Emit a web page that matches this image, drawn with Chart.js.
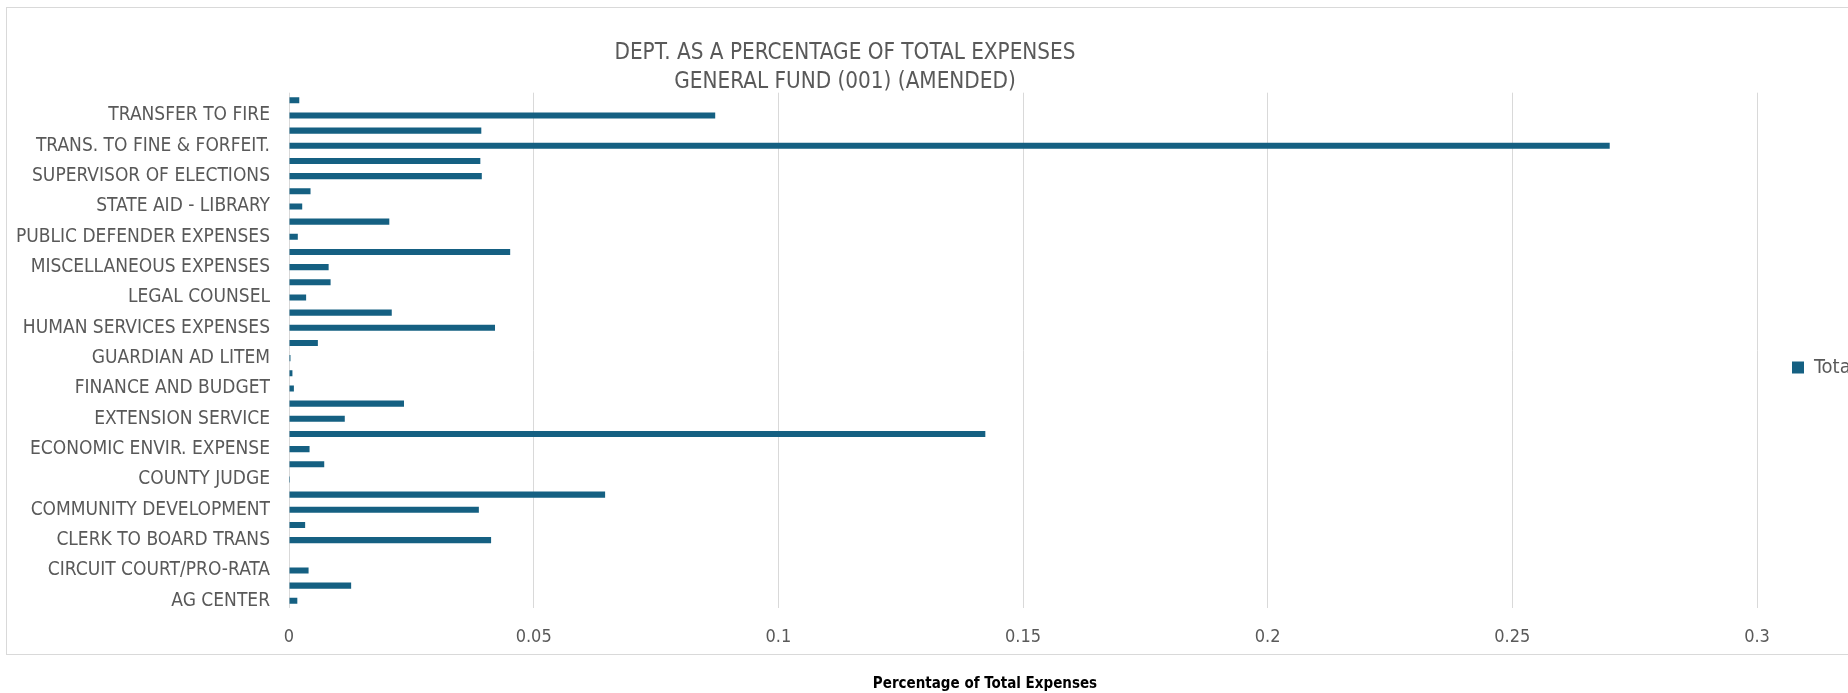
<!DOCTYPE html>
<html>
<head>
<meta charset="utf-8">
<script src="https://cdn.jsdelivr.net/npm/chart.js@4"></script>
<style>
html, body { margin: 0; padding: 0; overflow: hidden; background: #ffffff; }
#wrap { position: relative; width: 1848px; height: 693px; }
</style>
</head>
<body>
<div id="wrap"><canvas id="chart"></canvas></div>
<script>
// ---------- DATA (bottom category first) ----------
const categories = [
  'AG CENTER',
  'BUILDING MAINTENANCE',
  'CIRCUIT COURT/PRO-RATA',
  'CLERK OF COURTS',
  'CLERK TO BOARD TRANS',
  'CODE ENFORCEMENT',
  'COMMUNITY DEVELOPMENT',
  'COUNTY ADMINISTRATION',
  'COUNTY JUDGE',
  'DEBT SERVICE',
  'ECONOMIC ENVIR. EXPENSE',
  'EMERGENCY MEDICAL SERVICES',
  'EXTENSION SERVICE',
  'FACILITIES MAINTENANCE',
  'FINANCE AND BUDGET',
  'GENERAL SERVICES',
  'GUARDIAN AD LITEM',
  'HEALTH DEPARTMENT',
  'HUMAN SERVICES EXPENSES',
  'INFORMATION TECHNOLOGY',
  'LEGAL COUNSEL',
  'LIBRARY',
  'MISCELLANEOUS EXPENSES',
  'PROPERTY APPRAISER',
  'PUBLIC DEFENDER EXPENSES',
  'RISK MANAGEMENT',
  'STATE AID - LIBRARY',
  'STATE ATTORNEY',
  'SUPERVISOR OF ELECTIONS',
  'TAX COLLECTOR',
  'TRANS. TO FINE & FORFEIT.',
  'TRANSFER TO CAPITAL',
  'TRANSFER TO FIRE',
  'VETERANS SERVICES'
];
const totalValues = [
  0.0017, 0.0127, 0.0040, 0.0000, 0.0413, 0.0033, 0.0388, 0.0646, 0.0002, 0.0072,
  0.0042, 0.1423, 0.0114, 0.0235, 0.0010, 0.0007, 0.0003, 0.0059, 0.0421, 0.0210,
  0.0035, 0.0085, 0.0081, 0.0452, 0.0018, 0.0205, 0.0027, 0.0044, 0.0394, 0.0391,
  0.2699, 0.0393, 0.0871, 0.0021
];
const xTickValues = [0, 0.05, 0.1, 0.15, 0.2, 0.25, 0.3];
const seriesName = 'Total';
const titleLines = ['DEPT. AS A PERCENTAGE OF TOTAL EXPENSES', 'GENERAL FUND (001) (AMENDED)'];
const axisTitle = 'Percentage of Total Expenses';

// ---------- STYLE ----------
const FONT = "'Liberation Sans Narrow', 'Arial Narrow', 'DejaVu Sans Condensed', sans-serif";
const BAR_COLOR = '#156082';
const TEXT_GRAY = '#595959';
const GRID_GRAY = '#D9D9D9';
const TITLE_CENTER_X = 845;
const TITLE_SHIFT_Y = 6.5;
const AXIS_TITLE_CENTER_X = 985;
const LEGEND_SHIFT_Y = 21;

const frame = {
  id: 'frame',
  beforeDraw(chart) {
    const ctx = chart.ctx;
    ctx.save();
    ctx.strokeStyle = GRID_GRAY;
    ctx.lineWidth = 1;
    ctx.strokeRect(6.5, 7.5, chart.width + 20, 647);
    ctx.restore();
  }
};

const layoutTweaks = {
  id: 'layoutTweaks',
  afterLayout(chart) {
    chart.boxes.forEach(b => {
      if (!b.options) return;
      if (b === chart.titleBlock) {
        b.left = TITLE_CENTER_X - 800; b.right = TITLE_CENTER_X + 800;
        b.top += TITLE_SHIFT_Y; b.bottom += TITLE_SHIFT_Y;
      } else if (b.options.text === axisTitle) {
        b.left = AXIS_TITLE_CENTER_X - 800; b.right = AXIS_TITLE_CENTER_X + 800;
      }
    });
    if (chart.legend) { chart.legend.top += LEGEND_SHIFT_Y; chart.legend.bottom += LEGEND_SHIFT_Y; }
  }
};

new Chart(document.getElementById('chart'), {
  type: 'bar',
  data: {
    labels: categories,
    datasets: [{
      label: seriesName,
      data: totalValues,
      backgroundColor: BAR_COLOR,
      borderWidth: 0,
      barPercentage: 0.4,
      categoryPercentage: 1.0
    }]
  },
  plugins: [frame, layoutTweaks],
  options: {
    indexAxis: 'y',
    responsive: true,
    maintainAspectRatio: false,
    animation: false,
    devicePixelRatio: 1,
    layout: { padding: { left: 0, right: 0, top: 0, bottom: 0 } },
    scales: {
      x: {
        min: 0, max: 0.3,
        afterBuildTicks(scale) { scale.ticks = xTickValues.map(v => ({ value: v })); },
        ticks: {
          padding: 18,
          color: TEXT_GRAY,
          font: { family: FONT, size: 18, lineHeight: 1.2 },
          maxRotation: 0,
          callback: v => String(Math.round(v * 100) / 100)
        },
        grid: { color: GRID_GRAY, drawTicks: false, lineWidth: 1 },
        border: { display: false }
      },
      y: {
        reverse: true,
        afterFit(scale) { scale.width = 289; },
        ticks: {
          autoSkip: false,
          padding: 19,
          color: TEXT_GRAY,
          font: { family: FONT, size: 19 },
          callback: (v, i) => (i % 2 === 0 ? categories[i] : '')
        },
        grid: { display: false, drawTicks: false },
        border: { display: false }
      }
    },
    plugins: {
      title: {
        display: true,
        text: titleLines,
        color: TEXT_GRAY,
        font: { family: FONT, size: 22.3, weight: 'normal', lineHeight: 1.32 },
        padding: { top: 32, bottom: 1.8 }
      },
      subtitle: {
        display: true,
        position: 'bottom',
        text: axisTitle,
        color: '#000000',
        font: { family: FONT, size: 15, weight: 'bold', lineHeight: 1.2 },
        padding: { top: 9, bottom: 0 }
      },
      legend: {
        position: 'right',
        maxWidth: 91,
        labels: {
          boxWidth: 12,
          boxHeight: 12,
          padding: 35,
          color: TEXT_GRAY,
          font: { family: FONT, size: 20 }
        }
      },
      tooltip: { enabled: false }
    }
  }
});
</script>
</body>
</html>
